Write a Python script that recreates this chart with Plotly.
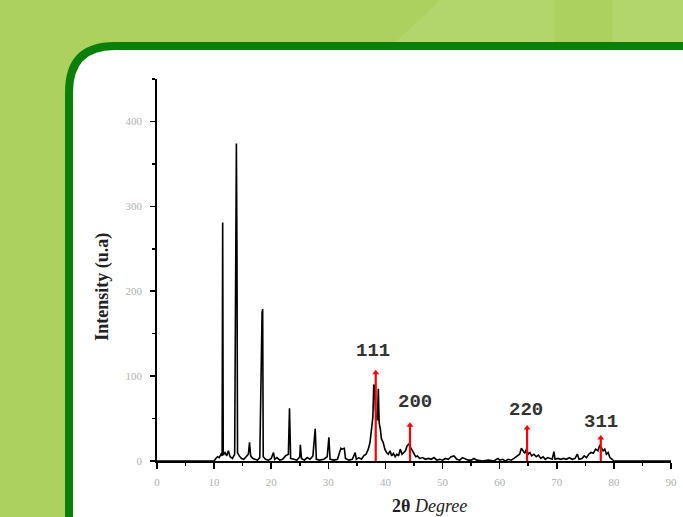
import plotly.graph_objects as go

# ---- data ----
two_theta = [0, 10.0, 10.3, 10.6, 10.9, 11.2, 11.4, 11.5, 11.6, 11.9, 12.2, 12.5, 12.8, 13.2, 13.6,
             13.8, 13.9, 14.0, 14.1, 14.4, 14.8, 15.2, 15.6, 16.0, 16.2, 16.4, 16.8, 17.2, 17.6, 18.0,
             18.3, 18.4, 18.5, 18.6, 19.0, 19.5, 20.0, 20.4, 20.6, 21.0, 21.5, 22.0, 22.5, 23.0, 23.2,
             23.4, 24.0, 24.5, 25.0, 25.1, 25.3, 25.8, 26.3, 26.8, 27.3, 27.7, 27.9, 28.5, 29.2, 29.8,
             30.1, 30.3, 31.0, 31.6, 32.2, 32.4, 32.8, 33.0, 33.6, 34.2, 34.7, 34.9, 35.3, 35.8, 36.2,
             36.6, 37.0, 37.3, 37.6, 37.8, 37.95, 38.1, 38.25, 38.4, 38.6, 38.75, 38.9, 39.1, 39.3, 39.6,
             39.9, 40.2, 40.5, 40.8, 41.1, 41.4, 41.7, 42.0, 42.3, 42.6, 42.9, 43.2, 43.5, 43.8, 44.1,
             44.4, 44.7, 45.0, 45.3, 45.6, 46.0, 46.5, 47.0, 47.5, 48.0, 48.5, 49.0, 49.5, 50.0, 50.5,
             51.0, 51.5, 52.0, 52.5, 53.0, 53.5, 54.0, 54.5, 55.0, 55.5, 56.0, 57.0, 58.0, 59.0, 59.7,
             60.0, 60.5, 61.0, 61.5, 62.0, 62.5, 63.0, 63.5, 63.8, 64.1, 64.4, 64.7, 65.0, 65.3, 65.6,
             66.0, 66.4, 66.8, 67.2, 67.6, 68.0, 68.4, 68.8, 69.2, 69.5, 69.7, 70.2, 70.7, 71.2, 71.7,
             72.2, 72.7, 73.2, 73.6, 73.9, 74.4, 74.8, 75.2, 75.6, 76.0, 76.4, 76.8, 77.2, 77.5, 77.8,
             78.1, 78.4, 78.7, 79.0, 79.3, 79.7, 80.0, 90.0]
intensity = [0, 0, 3, 5, 4, 8, 6, 281, 7, 10, 6, 12, 5, 3, 8,
             248, 374, 250, 10, 6, 3, 2, 5, 8, 22, 6, 3, 2, 1, 4,
             171, 175, 179, 5, 2, 1, 3, 10, 2, 4, 1, 2, 6, 8, 62,
             3, 2, 1, 5, 19, 3, 1, 4, 2, 6, 38, 2, 1, 2, 5,
             28, 2, 1, 2, 15, 14, 15, 3, 1, 2, 10, 2, 4, 2, 6,
             8, 14, 22, 40, 52, 90, 88, 60, 50, 48, 85, 45, 38, 26, 22,
             14, 10, 8, 12, 6, 9, 5, 8, 6, 14, 8, 10, 12, 18, 20,
             16, 12, 8, 5, 6, 3, 4, 2, 3, 2, 4, 1, 2, 1, 3,
             2, 5, 6, 2, 1, 4, 2, 1, 1, 3, 1, 0, 1, 0, 3,
             1, 2, 0, 2, 1, 3, 5, 8, 15, 12, 9, 14, 8, 10, 6,
             8, 5, 7, 3, 5, 2, 4, 3, 2, 11, 2, 3, 2, 3, 2,
             4, 2, 3, 8, 2, 3, 6, 4, 8, 10, 9, 14, 12, 18, 16,
             12, 14, 8, 10, 4, 2, 0, 0]

peak_labels = ["111", "200", "220", "311"]
peak_pos = [38.3, 44.3, 64.8, 77.7]
peak_top = [104, 42, 39, 27]
label_x = [37.8, 45.1, 64.6, 77.8]
label_y = [130, 70, 60, 46]

x_ticks = [0, 10, 20, 30, 40, 50, 60, 70, 80, 90]
y_ticks = [0, 100, 200, 300, 400]

# ---- figure ----
fig = go.Figure()

fig.add_trace(go.Scatter(x=two_theta, y=intensity, mode="lines",
                         line=dict(color="black", width=1.6), hoverinfo="skip"))

rx, ry = [], []
for p, t in zip(peak_pos, peak_top):
    rx += [p, p, None]
    ry += [0, t, None]
fig.add_trace(go.Scatter(x=rx, y=ry, mode="lines", line=dict(color="#ff0000", width=2.2),
                         hoverinfo="skip"))
fig.add_trace(go.Scatter(x=peak_pos, y=peak_top, mode="markers",
                         marker=dict(symbol="triangle-up", size=6, color="#ff0000"),
                         hoverinfo="skip"))

for lab, lx, ly in zip(peak_labels, label_x, label_y):
    fig.add_annotation(x=lx, y=ly, text=lab, showarrow=False, xanchor="center", yanchor="middle",
                       font=dict(family="Liberation Mono", size=19, color="#333333", weight="bold"))

W, H = 683, 517
ml, mr, mt, mb = 157, 6, 79, 56
pw, ph = W - ml - mr, H - mt - mb

def px(x):
    return (x - ml) / pw

def py(y):
    return (H - mb - y) / ph

# background light patches
fig.add_shape(type="path", xref="paper", yref="paper", layer="below",
              path=f"M {px(396)},{py(44)} L {px(444)},{py(0)} L {px(559)},{py(0)} L {px(559)},{py(44)} Z",
              fillcolor="#b3d66c", line=dict(width=0))
fig.add_shape(type="path", xref="paper", yref="paper", layer="below",
              path=f"M {px(618)},{py(44)} L {px(618)},{py(0)} L {px(690)},{py(0)} L {px(690)},{py(44)} Z",
              fillcolor="#b3d66c", line=dict(width=0))

# white rounded panel with green border
L, T, R, B = px(68), py(46), px(740), py(580)
rxp, ryp = 46 / pw, 46 / ph
fig.add_shape(type="path", xref="paper", yref="paper", layer="below",
              path=f"M {L},{B} L {L},{T - ryp} Q {L},{T} {L + rxp},{T} L {R},{T} L {R},{B} Z",
              fillcolor="white", line=dict(color="#0a800a", width=8))

# axis titles
fig.add_annotation(xref="paper", yref="paper", x=px(433), y=py(506), showarrow=False,
                   xanchor="center", yanchor="middle",
                   text="<b>2θ</b> <i>Degree</i>",
                   font=dict(family="Liberation Serif", size=18, color="#222222"))
fig.add_annotation(xref="paper", yref="paper", x=px(101), y=py(287), showarrow=False,
                   xanchor="center", yanchor="middle",
                   text="<b>Intensity (u.a)</b>", textangle=-90,
                   font=dict(family="Liberation Serif", size=18, color="#222222"))

fig.update_layout(
    width=W, height=H,
    margin=dict(l=ml, r=mr, t=mt, b=mb, pad=0),
    paper_bgcolor="#acd15f", plot_bgcolor="rgba(0,0,0,0)",
    showlegend=False,
    xaxis=dict(range=[0, 90], tickvals=x_ticks, ticktext=[str(v) for v in x_ticks],
               showgrid=False, zeroline=False, showline=True, linecolor="black", linewidth=1.8,
               ticks="outside", ticklen=6, tickwidth=1.5, tickcolor="black",
               minor=dict(dtick=5, ticks="outside", ticklen=3, tickwidth=1.5, tickcolor="black"),
               tickfont=dict(family="Liberation Serif", size=11, color="#b0b0b0"),
               ticklabelstandoff=4, fixedrange=True),
    yaxis=dict(range=[0, 450], tickvals=y_ticks, ticktext=[str(v) for v in y_ticks],
               showgrid=False, zeroline=False, showline=True, linecolor="black", linewidth=1.8,
               ticks="outside", ticklen=5, tickwidth=1.5, tickcolor="black",
               minor=dict(dtick=50, ticks="outside", ticklen=3, tickwidth=1.5, tickcolor="black"),
               tickfont=dict(family="Liberation Serif", size=11, color="#b0b0b0"),
               ticklabelstandoff=6, fixedrange=True),
)

fig.write_html(
    "out.html",
    config={"displayModeBar": False, "staticPlot": True},
    post_script="document.body.style.margin='0';document.body.style.background='#acd15f';",
)
